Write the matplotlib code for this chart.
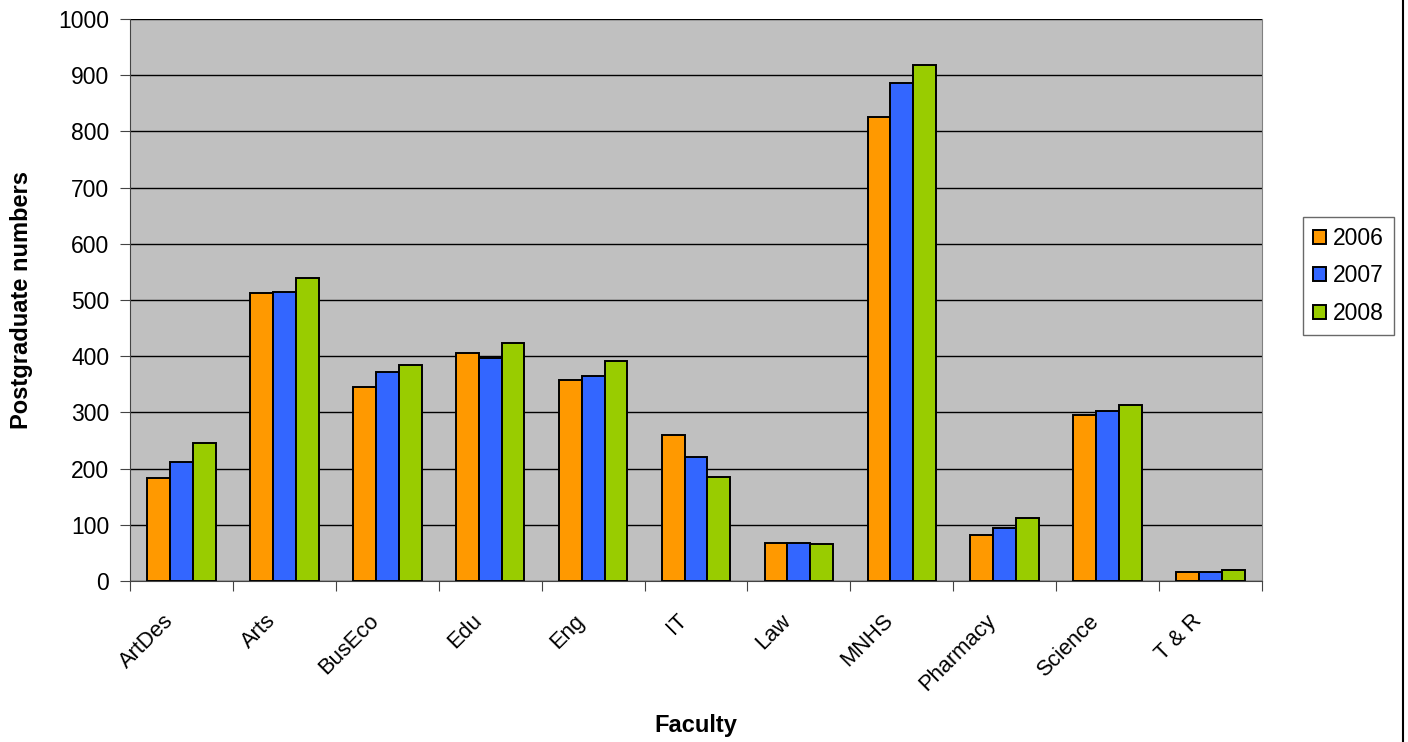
import matplotlib
matplotlib.use("Agg")
import matplotlib.pyplot as plt
import matplotlib.transforms as mtransforms
import numpy as np

categories = ["ArtDes", "Arts", "BusEco", "Edu", "Eng", "IT", "Law", "MNHS", "Pharmacy", "Science", "T & R"]
y2006 = [184, 512, 345, 406, 358, 259, 68, 826, 81, 296, 16]
y2007 = [212, 515, 372, 396, 365, 221, 68, 887, 95, 303, 16]
y2008 = [246, 539, 385, 423, 392, 185, 65, 918, 112, 313, 19]
series_names = ["2006", "2007", "2008"]
colors = ["#FF9900", "#3366FF", "#99CC00"]
yticks = list(range(0, 1001, 100))

plt.rcParams['font.family'] = ['Liberation Sans', 'DejaVu Sans']

fig = plt.figure(figsize=(14.08, 7.42), dpi=100)
ax = fig.add_axes([130/1408, 1-581/742, (1262-130)/1408, (581-19)/742])
ax.set_facecolor("#C0C0C0")

x = np.arange(len(categories))
w = 1/4.5
for i, (vals, name, c) in enumerate(zip([y2006, y2007, y2008], series_names, colors)):
    ax.bar(x + (i-1)*w, vals, width=w, color=c, edgecolor="black", linewidth=1.4, label=name, zorder=3)

ax.set_xlim(-0.5, len(categories)-0.5)
ax.set_ylim(0, 1000)
ax.set_yticks(yticks)
ax.set_yticklabels([str(t) for t in yticks], fontsize=16.5)
ax.yaxis.grid(True, color="black", linewidth=1, zorder=1)
ax.set_axisbelow(True)

ax.set_xticks(np.arange(-0.5, len(categories)+0.5, 1))
ax.set_xticklabels([])
ax.set_xticks(x, minor=True)
ax.set_xticklabels(categories, minor=True, rotation=45, ha="right", va="top",
                   rotation_mode="anchor", fontsize=15.8)
ax.tick_params(axis="x", which="minor", length=0, pad=21)
ax.tick_params(axis="x", which="major", length=7, direction="out", color="#444444")
ax.tick_params(axis="y", length=7, direction="out", color="#444444", pad=8)
off = mtransforms.ScaledTranslation(-19/100, 0, fig.dpi_scale_trans)
for lbl in ax.get_xticklabels(minor=True):
    lbl.set_transform(lbl.get_transform() + off)

ax.spines["top"].set_visible(False)
ax.spines["right"].set_color("#808080")
ax.spines["left"].set_color("#444444")
ax.spines["bottom"].set_color("#444444")

ax.set_ylabel("Postgraduate numbers", fontsize=17, fontweight="bold")
ax.yaxis.set_label_coords((33-130)/1132, 0.5)
ax.set_xlabel("Faculty", fontsize=17, fontweight="bold")
ax.xaxis.set_label_coords(0.5, (581-714)/562)

leg = ax.legend(loc="center left", bbox_to_anchor=(1303/1408, 1-276/742), bbox_transform=fig.transFigure,
                frameon=True, fancybox=False, edgecolor="#444444", fontsize=16.5,
                handlelength=0.55, handleheight=0.55, handletextpad=0.3, labelspacing=0.62,
                borderpad=0.45, borderaxespad=0)
leg.get_frame().set_linewidth(1.0)

fig.add_artist(plt.Line2D([1403/1408, 1403/1408], [0, 1], color="black", linewidth=1.5, transform=fig.transFigure))

fig.savefig("out.png", dpi=100, facecolor="white")
